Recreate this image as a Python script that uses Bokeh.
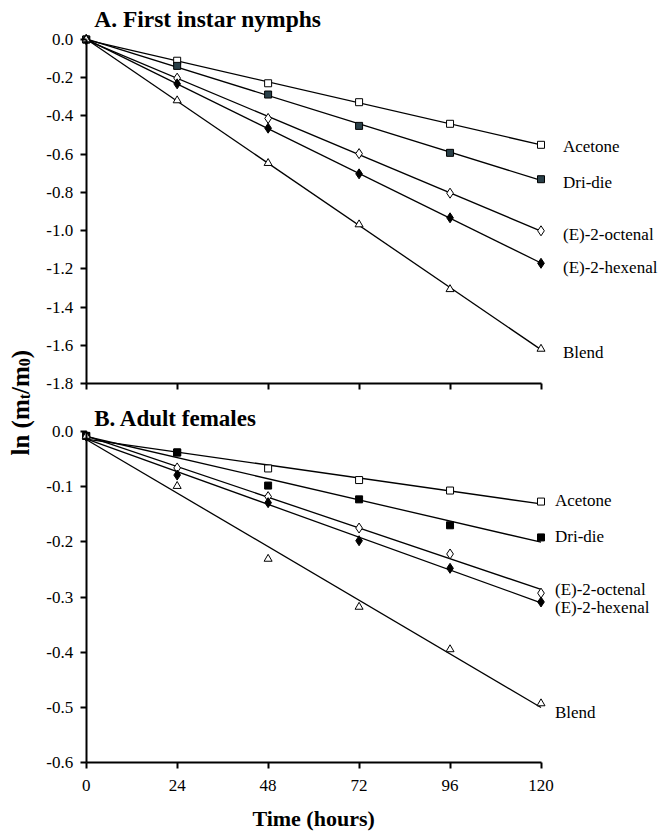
import math
import numpy as np
from bokeh.plotting import figure
from bokeh.models import LinearAxis, FixedTicker, Range1d, Label, NumeralTickFormatter
from bokeh.embed import file_html
from bokeh.resources import INLINE

# Sampling times (hours)
hours = [0, 24, 48, 72, 96, 120]
x_ticks = [0, 24, 48, 72, 96, 120]
treatments = ["Acetone", "Dri-die", "(E)-2-octenal", "(E)-2-hexenal", "Blend"]

# A. First instar nymphs: ln(mt/m0)
nymph_acetone = [0.0, -0.111, -0.229, -0.328, -0.441, -0.551]
nymph_dridie = [0.0, -0.138, -0.288, -0.452, -0.593, -0.731]
nymph_octenal = [0.0, -0.202, -0.413, -0.597, -0.804, -1.001]
nymph_hexenal = [0.0, -0.232, -0.464, -0.703, -0.933, -1.171]
nymph_blend = [0.0, -0.319, -0.647, -0.968, -1.307, -1.619]
nymph_ticks = [0.0, -0.2, -0.4, -0.6, -0.8, -1.0, -1.2, -1.4, -1.6, -1.8]

# B. Adult females: ln(mt/m0)
adult_acetone = [-0.008, -0.038, -0.067, -0.088, -0.107, -0.127]
adult_dridie = [-0.008, -0.038, -0.098, -0.123, -0.170, -0.192]
adult_octenal = [-0.008, -0.066, -0.118, -0.175, -0.222, -0.293]
adult_hexenal = [-0.008, -0.079, -0.129, -0.198, -0.248, -0.309]
adult_blend = [-0.008, -0.099, -0.231, -0.318, -0.395, -0.493]
adult_ticks = [0.0, -0.1, -0.2, -0.3, -0.4, -0.5, -0.6]

SERIF = "Liberation Serif"

# One canvas holds both panels; the plotting frame covers the whole page and
# each panel has its own vertical range.
p = figure(width=658, height=832,
           x_range=Range1d(-22.61, 151.0),
           y_range=Range1d(-4.1494, 0.2041),
           x_axis_type=None, y_axis_type=None,
           output_backend="svg", toolbar_location=None,
           min_border_left=0, min_border_right=0,
           min_border_top=0, min_border_bottom=0)
p.extra_y_ranges = {"adult": Range1d(-0.7269, 0.7813)}
p.outline_line_color = None
p.background_fill_color = "white"
p.border_fill_color = "white"


def style_axis(ax):
    ax.axis_line_width = 2
    ax.axis_line_color = "black"
    ax.major_tick_line_width = 2
    ax.major_tick_in = 0
    ax.major_tick_out = 6
    ax.minor_tick_line_color = None
    ax.major_label_text_font = SERIF
    ax.major_label_text_font_size = "17px"
    ax.major_label_text_color = "black"


# y axes
for rng, ticks, lo in (("default", nymph_ticks, -1.8), ("adult", adult_ticks, -0.6)):
    ya = LinearAxis(y_range_name=rng, fixed_location=0, bounds=(lo, 0),
                    ticker=FixedTicker(ticks=ticks),
                    formatter=NumeralTickFormatter(format="0.0"))
    style_axis(ya)
    ya.major_label_standoff = 7
    p.add_layout(ya, "left")

# x axis of the upper panel (no tick labels)
xa_top = LinearAxis(y_range_name="default", fixed_location=-1.8, bounds=(0, 120),
                    ticker=FixedTicker(ticks=x_ticks),
                    major_label_overrides={t: "" for t in x_ticks})
style_axis(xa_top)
p.add_layout(xa_top, "below")

# x axis of the lower panel
xa_bot = LinearAxis(y_range_name="adult", fixed_location=-0.6, bounds=(0, 120),
                    ticker=FixedTicker(ticks=x_ticks))
style_axis(xa_bot)
xa_bot.major_label_standoff = 12
p.add_layout(xa_bot, "below")

p.add_layout(Label(x=60, y=-0.6, y_range_name="adult", y_offset=-56,
                   text="Time (hours)", text_font=SERIF, text_font_style="bold",
                   text_font_size="22px", text_align="center",
                   text_baseline="middle", text_color="black"))

marker_styles = [
    dict(marker="square", size=7, fill_color="white"),
    dict(marker="square", size=7, fill_color="#2a4049"),
    dict(marker="diamond", size=10, fill_color="white"),
    dict(marker="diamond", size=10, fill_color="black"),
    dict(marker="triangle", size=8, fill_color="white"),
]


def fit_line(values):
    slope, intercept = np.polyfit(hours, values, 1)
    xs = [hours[0], hours[-1]]
    return xs, [intercept + slope * x for x in xs]


panels = [
    ("default", [nymph_acetone, nymph_dridie, nymph_octenal, nymph_hexenal, nymph_blend],
     22, [-2, -3, -4, -4, -4], "#2a4049"),
    ("adult", [adult_acetone, adult_dridie, adult_octenal, adult_hexenal, adult_blend],
     14, [1, 1, 4, -6, -9], "black"),
]

for rng, series, lab_dx, lab_dy, dridie_fill in panels:
    for vals in series:
        fx, fy = fit_line(vals)
        p.line(fx, fy, line_color="black", line_width=1.3, y_range_name=rng)
    for i, (name, vals) in enumerate(zip(treatments, series)):
        st = dict(marker_styles[i])
        if i == 1:
            st["fill_color"] = dridie_fill
        p.scatter(hours, vals, line_color="black", line_width=1, y_range_name=rng, **st)
        p.add_layout(Label(x=hours[-1], y=vals[-1], y_range_name=rng,
                           x_offset=lab_dx, y_offset=lab_dy[i], text=name,
                           text_font=SERIF, text_font_size="17px",
                           text_baseline="middle", text_color="black"))

# panel titles
p.add_layout(Label(x=0, y=0, x_offset=8, y_offset=21, text="A. First instar nymphs",
                   text_font=SERIF, text_font_style="bold", text_font_size="23.5px",
                   text_baseline="middle", text_color="black"))
p.add_layout(Label(x=0, y=0, y_range_name="adult", x_offset=8, y_offset=13,
                   text="B. Adult females",
                   text_font=SERIF, text_font_style="bold", text_font_size="23px",
                   text_baseline="middle", text_color="black"))

# vertical axis title ln(m_t/m_0), built from pieces so the subscripts sit low
em = {"l": .278, "n": .556, " ": .25, "(": .333, "m": .833, "t": .333,
      "/": .278, "0": .5, ")": .333}
main_size, sub_size = 25, 16
pieces = [("ln (m", False), ("t", True), ("/m", False), ("0", True), (")", False)]
offset = -24.0
for txt, is_sub in pieces:
    fs = sub_size if is_sub else main_size
    p.add_layout(Label(x=0, y=0, y_range_name="adult",
                       x_offset=-61.5 if is_sub else -65.5, y_offset=offset,
                       text=txt, angle=math.pi / 2,
                       text_font=SERIF, text_font_style="bold",
                       text_font_size=f"{fs}px", text_align="left",
                       text_baseline="alphabetic", text_color="black"))
    offset += sum(em[c] for c in txt) * fs

open("out.html", "w").write(file_html(p, INLINE))
